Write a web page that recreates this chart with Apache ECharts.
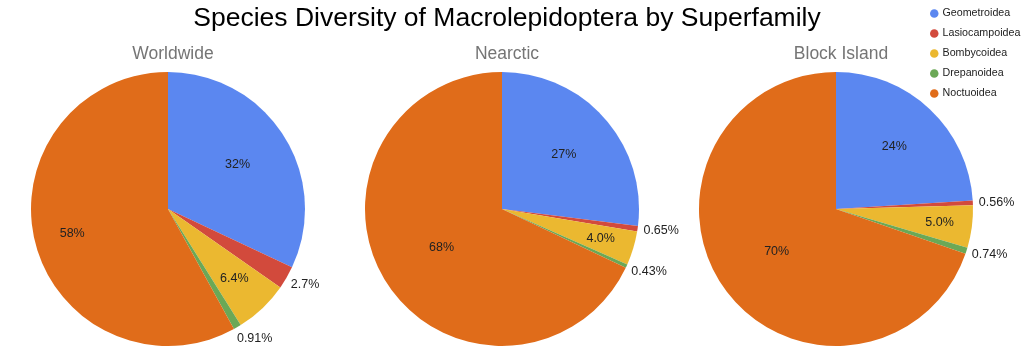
<!DOCTYPE html>
<html>
<head>
<meta charset="utf-8">
<script src="https://cdn.jsdelivr.net/npm/echarts@6/dist/echarts.min.js"></script>
<style>
html,body{margin:0;padding:0;background:#fff;}
#chart{width:1024px;height:364px;}
</style>
</head>
<body>
<div id="chart"></div>
<script>
const superfamilies = ['Geometroidea', 'Lasiocampoidea', 'Bombycoidea', 'Drepanoidea', 'Noctuoidea'];
const regions = ['Worldwide', 'Nearctic', 'Block Island'];
const worldwide = [32, 2.7, 6.4, 0.91, 58];
const nearctic = [27, 0.65, 4.0, 0.43, 68];
const blockIsland = [24.0, 0.56, 5.0, 0.74, 69.7];
const colors = ['#5B87F0', '#D24A3C', '#EBB830', '#6BA856', '#E06C1A'];
const titleText = 'Species Diversity of Macrolepidoptera by Superfamily';

// style: radial placement (fraction of radius) of inside labels, per pie
const insideLabelFrac = [
  [0.58, 0, 0.68, 0, 0.70],
  [0.58, 0, 0.73, 0, 0.50],
  [0.60, 0, 0.74, 0, 0.51]
];

const allValues = [worldwide, nearctic, blockIsland];
const centersX = [168, 502, 836];
const CY = 209, R = 137;
const FONT = '"Liberation Sans", Arial, sans-serif';

function fmt(v) {
  return Number(v).toPrecision(2) + '%';
}

const series = [];
// visible pies (with outside labels for the thin slices)
allValues.forEach((vals, si) => {
  const total = vals.reduce((a, b) => a + b, 0);
  series.push({
    type: 'pie',
    name: regions[si],
    center: [centersX[si], CY],
    radius: [0, R],
    startAngle: 90,
    clockwise: true,
    avoidLabelOverlap: false,
    silent: true,
    itemStyle: { borderWidth: 0 },
    labelLine: { show: false, length: 13, length2: 0 },
    data: vals.map((v, i) => {
      const small = v / total < 0.035;
      return {
        name: superfamilies[i],
        value: v,
        itemStyle: { color: colors[i] },
        label: {
          show: small,
          position: 'outside',
          formatter: fmt(v),
          fontFamily: FONT,
          fontSize: 12.5,
          color: '#222222',
          alignTo: 'none',
          distanceToLabelLine: -7
        }
      };
    })
  });
});
// transparent label-only pies, one per inside label, sharing the same angular layout
allValues.forEach((vals, si) => {
  const total = vals.reduce((a, b) => a + b, 0);
  vals.forEach((v, j) => {
    if (v / total < 0.035) return;
    series.push({
      type: 'pie',
      center: [centersX[si], CY],
      radius: [0, 2 * insideLabelFrac[si][j] * R],
      startAngle: 90,
      clockwise: true,
      avoidLabelOverlap: false,
      silent: true,
      z: 5,
      labelLine: { show: false },
      data: vals.map((vv, i) => ({
        name: superfamilies[i],
        value: vv,
        itemStyle: { color: 'rgba(0,0,0,0)', borderWidth: 0 },
        label: {
          show: i === j,
          position: 'inside',
          formatter: fmt(vv),
          fontFamily: FONT,
          fontSize: 12.5,
          color: '#222222'
        }
      }))
    });
  });
});

const titles = [{
  text: titleText,
  left: 502,
  textAlign: 'center',
  top: 0,
  textStyle: { fontFamily: FONT, fontSize: 26.5, fontWeight: 'normal', color: '#000000' }
}].concat(regions.map((r, i) => ({
  text: r,
  left: centersX[i],
  textAlign: 'center',
  top: 40,
  textStyle: { fontFamily: FONT, fontSize: 17.5, fontWeight: 'normal', color: '#757575' }
})));

const chart = echarts.init(document.getElementById('chart'), null, { renderer: 'canvas' });
chart.setOption({
  animation: false,
  backgroundColor: '#ffffff',
  title: titles,
  legend: {
    orient: 'vertical',
    left: 925,
    top: 3,
    icon: 'circle',
    itemWidth: 8.5,
    itemHeight: 8.5,
    itemGap: 9,
    data: superfamilies,
    textStyle: { fontFamily: FONT, fontSize: 10.7, color: '#222222', padding: [0, 0, 0, -1] }
  },
  series: series
});
</script>
</body>
</html>
